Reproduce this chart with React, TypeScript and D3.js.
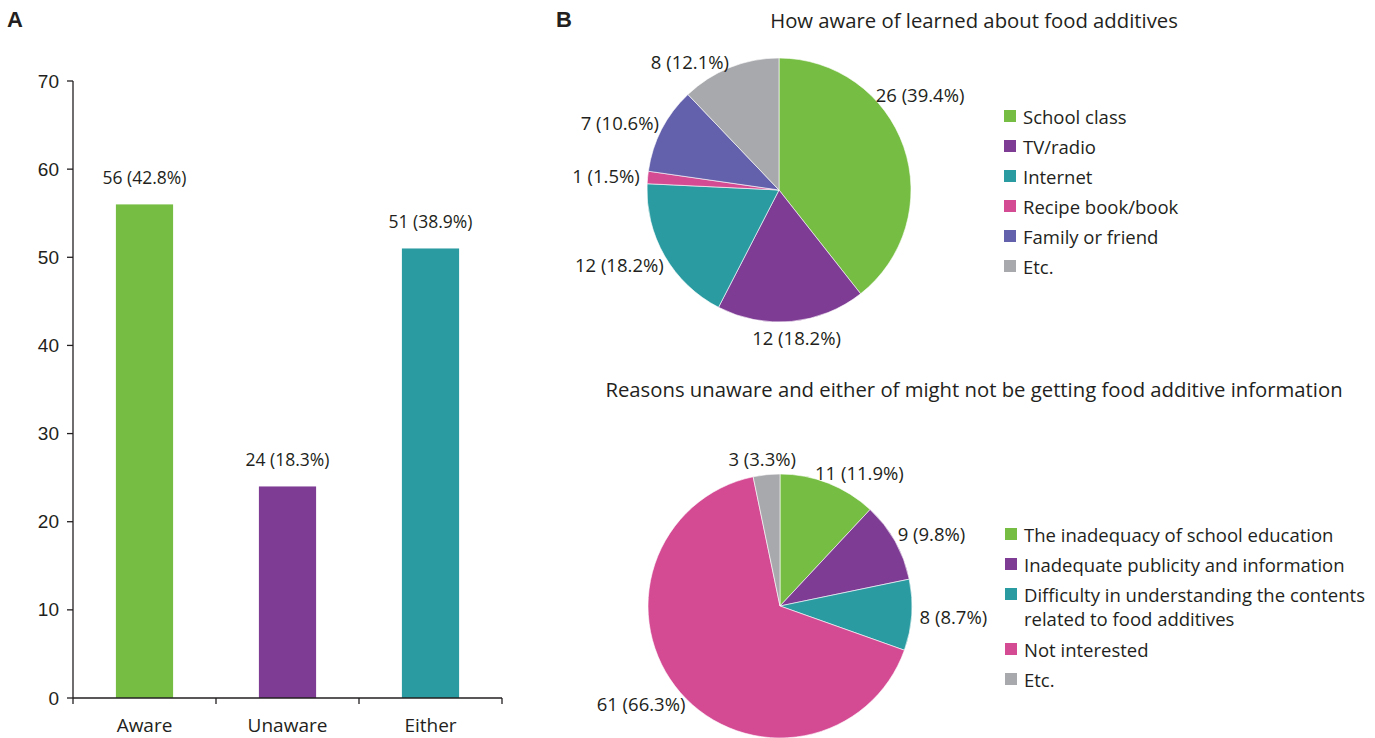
import React from "react";
import * as d3 from "d3";

// panel A
const groups = ["Aware", "Unaware", "Either"];
const groupCounts = [56, 24, 51];
const groupPct = ["42.8%", "18.3%", "38.9%"];
const yTicks = [0, 10, 20, 30, 40, 50, 60, 70];

// panel B, top pie
const sources = ["School class", "TV/radio", "Internet", "Recipe book/book", "Family or friend", "Etc."];
const sourceCounts = [26, 12, 12, 1, 7, 8];
const sourcePct = ["39.4%", "18.2%", "18.2%", "1.5%", "10.6%", "12.1%"];

// panel B, bottom pie
const reasons = [
  ["The inadequacy of school education"],
  ["Inadequate publicity and information"],
  ["Difficulty in understanding the contents", "related to food additives"],
  ["Not interested"],
  ["Etc."],
];
const reasonCounts = [11, 9, 8, 61, 3];
const reasonPct = ["11.9%", "9.8%", "8.7%", "66.3%", "3.3%"];

const GREEN = "#76be43";
const PURPLE = "#7e3c94";
const TEAL = "#2a9ba1";
const PINK = "#d44b94";
const BLUE = "#6461ac";
const GREY = "#a8a9ad";
const sourceColors = [GREEN, PURPLE, TEAL, PINK, BLUE, GREY];
const reasonColors = [GREEN, PURPLE, TEAL, PINK, GREY];
const barColors = [GREEN, PURPLE, TEAL];

const FONT = "'Open Sans', sans-serif";
const INK = "#231f20";

// label angle tweaks (degrees) where the original moved a label off the slice middle
const sourceNudge = [-21, 0, 0, 0, 0, -8];
const reasonNudge = [4, 0, 0, 0, 0];

let ctx: CanvasRenderingContext2D | null = null;
const textWidth = (s: string, size: number) => {
  if (!ctx) ctx = document.createElement("canvas").getContext("2d");
  if (!ctx) return s.length * size * 0.55;
  ctx.font = `${size}px 'Open Sans'`;
  return ctx.measureText(s).width;
};

const PieChart = ({ cx, cy, r, counts, pct, colors, nudge }) => {
  const pie = d3.pie<number>().sort(null).value(d => d);
  const arc = d3.arc<d3.PieArcDatum<number>>().innerRadius(0).outerRadius(r);
  const arcs = pie(counts);
  const gap = r + 8;
  const fs = 18.5;
  return (
    <g transform={`translate(${cx},${cy})`}>
      {arcs.map((a, i) => (
        <path key={i} d={arc(a) || ""} fill={colors[i]} stroke="#fff" strokeWidth={0.6} />
      ))}
      {arcs.map((a, i) => {
        const ang = (a.startAngle + a.endAngle) / 2 + (nudge[i] * Math.PI) / 180;
        const s = Math.sin(ang);
        const c = -Math.cos(ang);
        const label = `${counts[i]} (${pct[i]})`;
        const w = textWidth(label, fs);
        const x = gap * s + (s * w) / 2;
        const y = gap * c + (c * 16) / 2;
        return (
          <text key={i} x={x} y={y} textAnchor="middle" dominantBaseline="central"
            fontFamily={FONT} fontSize={fs} fill={INK}>
            {label}
          </text>
        );
      })}
    </g>
  );
};

const Legend = ({ x, y, items, colors }) => {
  let row = y;
  return (
    <g>
      {items.map((lines: string[], i: number) => {
        const top = row;
        row += 30 + (lines.length - 1) * 25;
        return (
          <g key={i}>
            <rect x={x} y={top - 6} width={12} height={12} fill={colors[i]} />
            {lines.map((l, j) => (
              <text key={j} x={x + 19} y={top + j * 24} dominantBaseline="central"
                fontFamily={FONT} fontSize={18.5} fill={INK}>
                {l}
              </text>
            ))}
          </g>
        );
      })}
    </g>
  );
};

const App = () => {
  const x = d3.scaleBand().domain(groups).range([73, 502]).paddingInner(0.6).paddingOuter(0.3);
  const y = d3.scaleLinear().domain([0, 70]).range([698, 81]);
  const step = x.step();

  return (
    <svg width={1375} height={738} style={{ position: "absolute", left: 0, top: 0, background: "#fff" }}>
      <text x={7} y={27} fontFamily="'Liberation Sans', Arial, sans-serif" fontWeight="bold" fontSize={22} fill={INK}>A</text>
      <text x={556} y={27} fontFamily="'Liberation Sans', Arial, sans-serif" fontWeight="bold" fontSize={22} fill={INK}>B</text>

      {/* bar chart */}
      {groups.map((g, i) => (
        <g key={g}>
          <rect x={x(g)} y={y(groupCounts[i])} width={x.bandwidth()} height={y(0) - y(groupCounts[i])} fill={barColors[i]} />
          <text x={(x(g) || 0) + x.bandwidth() / 2} y={y(groupCounts[i]) - 20} textAnchor="middle"
            fontFamily={FONT} fontSize={17.5} fill={INK}>
            {`${groupCounts[i]} (${groupPct[i]})`}
          </text>
          <text x={(x(g) || 0) + x.bandwidth() / 2} y={732} textAnchor="middle"
            fontFamily={FONT} fontSize={19} fill={INK}>
            {g}
          </text>
        </g>
      ))}
      <line x1={73} x2={73} y1={y(70)} y2={y(0)} stroke={INK} strokeWidth={1.3} />
      <line x1={73} x2={502} y1={y(0)} y2={y(0)} stroke={INK} strokeWidth={1.3} />
      {yTicks.map(t => (
        <g key={t}>
          <line x1={67} x2={73} y1={y(t)} y2={y(t)} stroke={INK} strokeWidth={1.3} />
          <text x={59} y={y(t)} textAnchor="end" dominantBaseline="central"
            fontFamily="'Liberation Sans', Arial, sans-serif" fontSize={19} fill={INK}>
            {t}
          </text>
        </g>
      ))}
      {d3.range(groups.length + 1).map(i => (
        <line key={i} x1={73 + i * step} x2={73 + i * step} y1={y(0)} y2={y(0) + 6} stroke={INK} strokeWidth={1.3} />
      ))}

      {/* top pie */}
      <text x={974} y={20} textAnchor="middle" dominantBaseline="central" fontFamily={FONT} fontSize={20.3} fill={INK}>
        How aware of learned about food additives
      </text>
      <PieChart cx={779} cy={190} r={132} counts={sourceCounts} pct={sourcePct} colors={sourceColors} nudge={sourceNudge} />
      <Legend x={1004} y={116} items={sources.map(s => [s])} colors={sourceColors} />

      {/* bottom pie */}
      <text x={974} y={389} textAnchor="middle" dominantBaseline="central" fontFamily={FONT} fontSize={20.3} fill={INK}>
        Reasons unaware and either of might not be getting food additive information
      </text>
      <PieChart cx={780} cy={606} r={132} counts={reasonCounts} pct={reasonPct} colors={reasonColors} nudge={reasonNudge} />
      <Legend x={1005} y={534} items={reasons} colors={reasonColors} />
    </svg>
  );
};

export default App;
